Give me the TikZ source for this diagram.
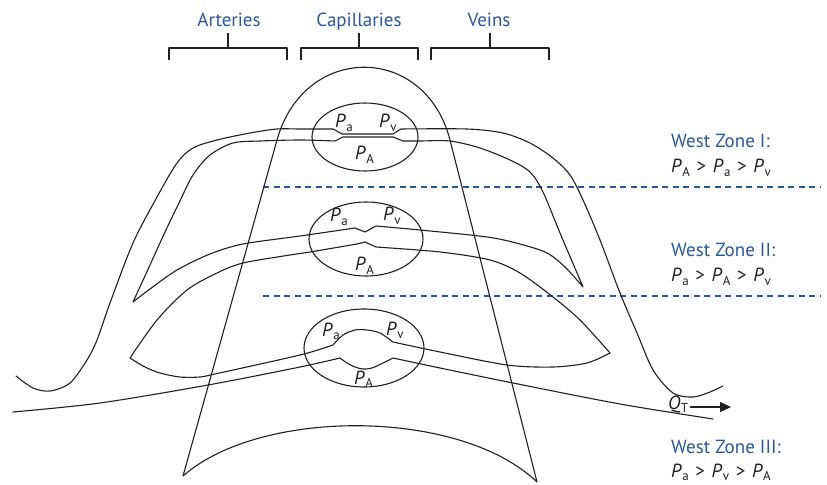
\documentclass[tikz,border=0pt]{standalone}
\usepackage{fontspec}
\setmainfont{PT Sans}
\usetikzlibrary{arrows.meta}
\definecolor{zblue}{RGB}{40,88,152}
\definecolor{ink}{RGB}{35,31,32}
\newcommand{\Psb}[1]{\textit{P}\kern0.4bp\raisebox{-3.5bp}{\fontsize{13bp}{13bp}\selectfont #1}}
\newcommand{\Gt}{\hspace{0.35em}>\hspace{0.35em}}
\begin{document}
\begin{tikzpicture}[x=1bp,y=-1bp,
  ln/.style={draw=ink,line width=1.1bp,line join=round,line cap=round},
  dsh/.style={draw=zblue,line width=1.2bp,dash pattern=on 6bp off 4.5bp},
  head/.style={text=zblue,font=\fontsize{19bp}{22bp}\selectfont,inner sep=0pt,anchor=base},
  zone/.style={text=zblue,font=\fontsize{19bp}{22bp}\selectfont,inner sep=0pt,anchor=base west},
  rel/.style={text=ink,font=\fontsize{19bp}{22bp}\selectfont,inner sep=0pt,anchor=base west},
  plab/.style={text=ink,font=\fontsize{19bp}{22bp}\selectfont,inner sep=0pt,anchor=base west}]
\useasboundingbox (0,0) rectangle (827,485);

% headings and brackets
\node[head] (art) at (229,27) {Arteries};
\node[head] (cap) at (359,27) {Capillaries};
\node[head] (vei) at (489,27) {Veins};
\draw[ln,line cap=butt] (169,60) -- (169,48) -- (287,48) -- (287,60) (228,48) -- (228,33);
\draw[ln,line cap=butt] (301,60) -- (301,48) -- (418,48) -- (418,60) (359,48) -- (359,33);
\draw[ln,line cap=butt] (431,60) -- (431,48) -- (549,48) -- (549,60) (490,48) -- (490,33);

% dashed zone borders
\draw[dsh] (263,187) -- (820,187);
\draw[dsh] (263,296) -- (820,296);

% capillary cone
\draw[ln] (183,476) -- (277,140) .. controls (304,43) and (425,43) .. (450,140)
  -- (537,482) .. controls (460,408) and (260,408) .. cycle;

% alveoli
\draw[ln] (365,137) ellipse [x radius=53,y radius=34];
\draw[ln] (366,239) ellipse [x radius=57,y radius=37];
\draw[ln] (364,348) ellipse [x radius=60,y radius=39];

% zone I upper vessel wall
\draw[ln] plot[smooth] coordinates {(16,376) (33,388) (50,391) (70,383) (87,360) (97,340) (110,303) (133,243) (157,197) (177,163) (193,148) (217,140) (250,133) (277,129) (300,129) (333,129)}
  -- (342,134) -- (393,134) -- (401,129)
  -- plot[smooth] coordinates {(401,129) (467,129) (503,133) (530,143) (553,158) (570,175) (583,200) (600,240) (620,293) (637,333) (653,370) (673,393) (693,397) (710,392) (723,386)};

% zone I lower wall + zone II upper wall (closed)
\draw[ln] plot[smooth] coordinates {(335,141) (300,140) (260,141) (233,143) (210,155) (193,175) (178,205) (165,232) (150,265) (133,302)}
  -- plot[smooth] coordinates {(133,302) (150,289) (177,270) (210,254) (243,244) (300,236) (355,228)}
  -- (365,232) -- (376,226)
  -- plot[smooth] coordinates {(376,226) (420,230) (487,237) (520,244) (547,253) (565,267) (583,287)}
  -- plot[smooth] coordinates {(583,287) (560,233) (543,192) (530,172) (510,160) (480,148) (450,141) (420,141) (403,141)}
  -- (393,137) -- (343,137) -- cycle;

% zone II lower wall + zone III upper wall (closed)
\draw[ln] plot[smooth] coordinates {(357,244) (310,252) (290,255) (243,263) (217,273) (187,290) (157,320) (130,358)}
  -- plot[smooth] coordinates {(130,358) (145,367) (160,373) (180,377) (200,377) (215,374) (300,355) (333,345)}
  -- plot[smooth] coordinates {(333,345) (343,335) (355,330) (367,330) (380,333) (393,342)}
  -- plot[smooth] coordinates {(393,342) (440,352) (507,365) (553,367) (587,363) (610,353)}
  -- plot[smooth] coordinates {(610,353) (580,320) (553,297) (520,273) (490,260) (440,252) (376,247)}
  -- (365,242) -- cycle;

% zone III lower wall
\draw[ln] plot[smooth] coordinates {(13,412) (100,403) (208,385) (300,367) (340,358)}
  -- plot[smooth] coordinates {(340,358) (347,363) (355,367) (363,369) (372,368) (383,363) (393,358)}
  -- plot[smooth] coordinates {(393,358) (440,368) (513,383) (620,404) (713,419)};

% pressure labels
\node[plab] (pa1) at (335,128) {\Psb{a}};
\node[plab] (pv1) at (379,128) {\Psb{v}};
\node[plab] (pA1) at (355,160) {\Psb{A}};
\node[plab] (pa2) at (330,222) {\Psb{a}};
\node[plab] (pv2) at (383,221) {\Psb{v}};
\node[plab] (pA2) at (355,271) {\Psb{A}};
\node[plab] (pa3) at (322,336) {\Psb{a}};
\node[plab] (pv3) at (386,335) {\Psb{v}};
\node[plab] (pA3) at (354,384) {\Psb{A}};

% flow
\node[plab] (qt) at (668,409) {\textit{Q}\kern0.4bp\raisebox{-3.5bp}{\fontsize{13bp}{13bp}\selectfont T}};
\coordinate (qend) at (731,407);
\draw[ln,-{Triangle[length=11bp,width=10bp]}] (qt.east |- qend) ++(2,0) coordinate (qstart) (qstart) -- (qend);

% zone labels
\node[zone] (z1) at (671,148) {West Zone I:};
\node[rel] (r1) at (671,173) {\Psb{A}\Gt\Psb{a}\Gt\Psb{v}};
\node[zone] (z2) at (671,257) {West Zone II:};
\node[rel] (r2) at (671,282) {\Psb{a}\Gt\Psb{A}\Gt\Psb{v}};
\node[zone] (z3) at (671,453) {West Zone III:};
\node[rel] (r3) at (671,477) {\Psb{a}\Gt\Psb{v}\Gt\Psb{A}};
\end{tikzpicture}
\end{document}
